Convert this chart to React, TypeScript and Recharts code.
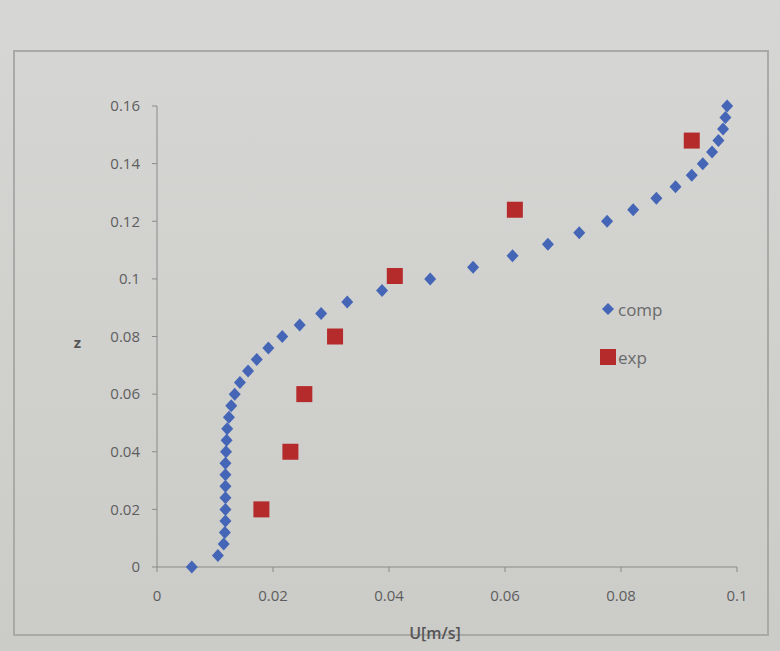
import { Legend, Scatter, ScatterChart, XAxis, YAxis } from "recharts";

// computed profile (comp)
const compU = [
  0.006, 0.0105, 0.0115, 0.0117, 0.0118, 0.0118, 0.0118, 0.0118, 0.0118, 0.0118,
  0.0119, 0.012, 0.0121, 0.0124, 0.0128, 0.0134, 0.0143, 0.0157, 0.0172, 0.0192,
  0.0216, 0.0246, 0.0283, 0.0328, 0.0388, 0.0471, 0.0545, 0.0613, 0.0674, 0.0728,
  0.0776, 0.0821, 0.0861, 0.0894, 0.0922, 0.0941, 0.0957, 0.0968, 0.0976, 0.098,
  0.0983,
];
const compZ = [
  0, 0.004, 0.008, 0.012, 0.016, 0.02, 0.024, 0.028, 0.032, 0.036,
  0.04, 0.044, 0.048, 0.052, 0.056, 0.06, 0.064, 0.068, 0.072, 0.076,
  0.08, 0.084, 0.088, 0.092, 0.096, 0.1, 0.104, 0.108, 0.112, 0.116,
  0.12, 0.124, 0.128, 0.132, 0.136, 0.14, 0.144, 0.148, 0.152, 0.156,
  0.16,
];

// measurements (exp)
const expU = [0.018, 0.023, 0.0254, 0.0307, 0.041, 0.0617, 0.0922];
const expZ = [0.02, 0.04, 0.06, 0.08, 0.101, 0.124, 0.148];

const xTicks = [0, 0.02, 0.04, 0.06, 0.08, 0.1];
const yTicks = [0, 0.02, 0.04, 0.06, 0.08, 0.1, 0.12, 0.14, 0.16];

const compData = compU.map((u, i) => ({ u, z: compZ[i] }));
const expData = expU.map((u, i) => ({ u, z: expZ[i] }));

const BLUE = "#4566b6";
const RED = "#b52a2b";

const Diamond = (props: any) => {
  const { cx, cy } = props;
  return (
    <polygon
      points={`${cx},${cy - 6.5} ${cx + 6},${cy} ${cx},${cy + 6.5} ${cx - 6},${cy}`}
      fill={BLUE}
    />
  );
};

const Square = (props: any) => {
  const { cx, cy } = props;
  return <rect x={cx - 8} y={cy - 8} width={16} height={16} fill={RED} />;
};

const LegendBox = () => (
  <div style={{ fontFamily: "Open Sans, sans-serif", fontSize: 17, color: "#6a6a6a" }}>
    <div style={{ display: "flex", alignItems: "center", height: 26 }}>
      <svg width={16} height={16}>
        <polygon points="8,2 14,8 8,14 2,8" fill={BLUE} />
      </svg>
      <span style={{ marginLeft: 2 }}>comp</span>
    </div>
    <div style={{ display: "flex", alignItems: "center", height: 26, marginTop: 22 }}>
      <svg width={16} height={16}>
        <rect x={0} y={0} width={16} height={16} fill={RED} />
      </svg>
      <span style={{ marginLeft: 2 }}>exp</span>
    </div>
  </div>
);

const tickStyle = { fontFamily: "Open Sans, sans-serif", fontSize: 15, fill: "#5e5e5e" };

export default function App() {
  return (
    <div
      style={{
        position: "absolute",
        left: 0,
        top: 0,
        width: 780,
        height: 651,
        background: "linear-gradient(#d6d6d4, #cbcbc8)",
        overflow: "hidden",
      }}
    >
      <div
        style={{
          position: "absolute",
          left: 13,
          top: 50,
          width: 752,
          height: 582,
          border: "2px solid #a9a9a7",
        }}
      />
      <div style={{ position: "absolute", left: 0, top: 0 }}>
        <ScatterChart
          width={780}
          height={651}
          margin={{ top: 106, right: 43, bottom: 10, left: 97 }}
        >
          <XAxis
            type="number"
            dataKey="u"
            domain={[0, 0.1]}
            ticks={xTicks}
            height={74}
            tick={tickStyle}
            tickSize={5}
            tickMargin={18}
            stroke="#8a8a8a"
            label={{
              value: "U[m/s]",
              position: "insideBottom",
              offset: 2,
              dx: -12,
              style: { fontFamily: "Open Sans, sans-serif", fontSize: 16, fill: "#555", fontWeight: 600 },
            }}
          />
          <YAxis
            type="number"
            dataKey="z"
            domain={[0, 0.16]}
            ticks={yTicks}
            width={60}
            tick={tickStyle}
            tickSize={5}
            tickMargin={12}
            stroke="#8a8a8a"
            label={{
              value: "z",
              position: "left",
              offset: 16,
              dy: 6,
              style: { fontFamily: "Open Sans, sans-serif", fontSize: 15, fill: "#555", fontWeight: 700 },
            }}
          />
          <Legend
            layout="vertical"
            verticalAlign="middle"
            align="center"
            content={<LegendBox />}
            wrapperStyle={{ left: 600, top: 296, width: 120 }}
          />
          <Scatter name="comp" data={compData} shape={<Diamond />} isAnimationActive={false} />
          <Scatter name="exp" data={expData} shape={<Square />} isAnimationActive={false} />
        </ScatterChart>
      </div>
    </div>
  );
}
